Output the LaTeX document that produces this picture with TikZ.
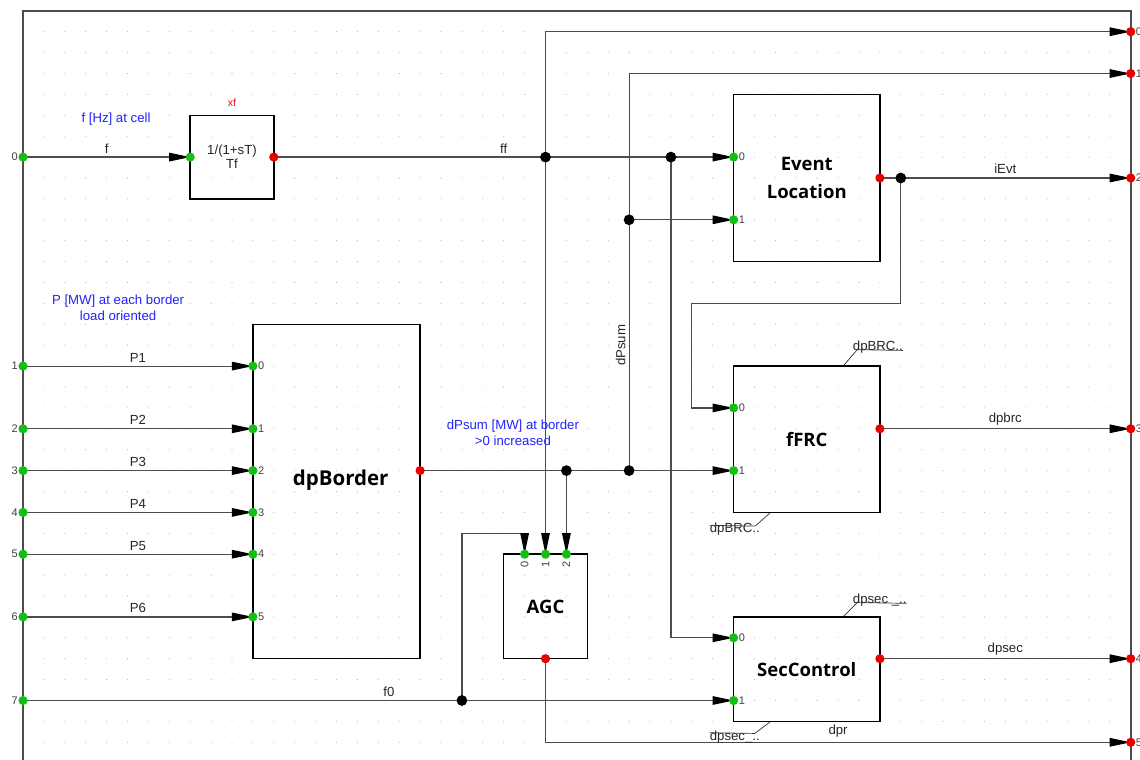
\documentclass[tikz,border=0pt]{standalone}
\usepackage{fontspec}
\setmainfont{Liberation Sans}
\newfontfamily\blockfont{Open Sans}
\usetikzlibrary{arrows.meta,positioning,calc}

\definecolor{noteblue}{RGB}{35,35,250}
\definecolor{portgreen}{RGB}{20,190,20}
\definecolor{portred}{RGB}{235,0,0}

\begin{document}
\begin{tikzpicture}[
    x=20.9pt, y=-20.9pt,
    blockbox/.style={rectangle, draw=black, line width=1.5pt, inner sep=0pt},
    sig/.style={draw=black!70, line width=1.2pt, -{Triangle[length=21pt, width=8.5pt, color=black]}},
    lbl/.style={font=\fontsize{13.2}{14}\selectfont, text=black!85},
    note/.style={font=\fontsize{13.2}{16}\selectfont, text=noteblue, align=center},
    pnum/.style={font=\fontsize{11}{12}\selectfont, text=black!75, inner sep=1pt},
    bigtxt/.style={font=\blockfont\bfseries\fontsize{18.5}{28}\selectfont, align=center},
    lead/.style={draw=black!80, line width=0.7pt}
]
    \useasboundingbox (-1.1005,-0.5167) rectangle (53.445,35.847);
    \fill[white] (-1.1005,-0.5167) rectangle (53.445,35.847);

    % Grid
    \foreach \i in {1,...,52}
        \foreach \j in {1,...,35}
            \fill[black!30] (\i,\j) circle (0.55pt);

    % Frame
    \draw[draw=black!70, line width=1.6pt] (0,36.5) -- (0,0) -- (53,0) -- (53,36.5);

    % Frame ports
    \foreach \n/\y in {0/7,1/17,2/20,3/22,4/24,5/26,6/29,7/33}
        \coordinate (in\n) at (0,\y);
    \foreach \n/\y in {0/1,1/3,2/8,3/20,4/31,5/35}
        \coordinate (out\n) at (53,\y);

    % Filter
    \node[blockbox, minimum width=83.6pt, minimum height=83.6pt, lbl, align=center] (filt) at (10,7) {1/(1+sT)\\Tf};
    \node[lbl, text=red, font=\fontsize{10.5}{12}\selectfont, above=5pt of filt] (xf) {xf};
    \coordinate (filtin) at (8,7);
    \coordinate (filtout) at (12,7);

    % Event Location
    \node[blockbox, minimum width=146.3pt, minimum height=167.2pt, bigtxt] (evt) at (37.5,8) {Event\\Location};
    \coordinate (evt0) at (34,7);
    \coordinate (evt1) at (34,10);
    \coordinate (evtout) at (41,8);

    % dpBorder
    \node[blockbox, minimum width=167.2pt, minimum height=334.4pt] (dpb) at (15,23) {};
    \node[bigtxt, font=\blockfont\bfseries\fontsize{20.5}{24}\selectfont] (dpbtxt) at (15.2,22.45) {dpBorder};
    \foreach \n/\y in {0/17,1/20,2/22,3/24,4/26,5/29}
        \coordinate (dpb\n) at (11,\y);
    \coordinate (dpbout) at (19,22);

    % fFRC
    \node[blockbox, minimum width=146.3pt, minimum height=146.3pt, bigtxt] (frc) at (37.5,20.5) {fFRC};
    \coordinate (frc0) at (34,19);
    \coordinate (frc1) at (34,22);
    \coordinate (frcout) at (41,20);

    % SecControl
    \node[blockbox, minimum width=146.3pt, minimum height=104.5pt, bigtxt] (sec) at (37.5,31.5) {SecControl};
    \coordinate (sec0) at (34,30);
    \coordinate (sec1) at (34,33);
    \coordinate (secout) at (41,31);

    % AGC
    \node[blockbox, minimum width=83.6pt, minimum height=104.5pt, bigtxt] (agc) at (25,28.5) {AGC};
    \coordinate (agc0) at (24,26);
    \coordinate (agc1) at (25,26);
    \coordinate (agc2) at (26,26);
    \coordinate (agcout) at (25,31);

    % Junctions
    \coordinate (jff1) at (25,7);
    \coordinate (jff2) at (31,7);
    \coordinate (jevt) at (42,8);
    \coordinate (jdp1) at (26,22);
    \coordinate (jdp2) at (29,22);
    \coordinate (jdp3) at (29,10);
    \coordinate (jf0) at (21,33);

    % Notes
    \node[note] (fnote) at (4.45,5.2) {f [Hz] at cell};
    \node[note] (pnote) at (4.55,14.2) {P [MW] at each border\\load oriented};
    \node[note] (dpnote) at (23.44,20.2) {dPsum [MW] at border\\>0 increased};

    % Signals
    \draw[sig] (in0) -- node[lbl, above] {f} (filtin);
    \draw[sig] (filtout) -- node[lbl, above] {ff} (evt0);
    \draw[sig] (jff1) |- (out0);
    \draw[sig] (jff1) -- (agc1);
    \draw[sig] (jff2) |- (sec0);
    \draw[sig] (evtout) -- node[lbl, above] {iEvt} (out2);
    \draw[sig] (jevt) |- (32,14) |- (frc0);
    \foreach \n/\m in {1/0,2/1,3/2,4/3,5/4,6/5}
        \draw[sig] (in\n) -- node[lbl, above] {P\n} (dpb\m);
    \draw[sig] (dpbout) -- (frc1);
    \draw[sig] (jdp2) |- (out1);
    \draw[sig] (jdp3) -- (evt1);
    \draw[sig] (jdp1) -- (agc2);
    \node[lbl, rotate=90, anchor=south] (dpsumlbl) at (29,16) {dPsum};
    \draw[sig] (in7) -- node[lbl, above, pos=0.515] {f0} (sec1);
    \draw[sig] (jf0) -- (21,25) -| (agc0);
    \draw[sig] (agcout) |- (out5);
    \draw[sig] (frcout) -- node[lbl, above] {dpbrc} (out3);
    \draw[sig] (secout) -- node[lbl, above] {dpsec} (out4);

    % Leaders
    \node[lbl, anchor=base west, inner sep=0pt] (frctop) at (39.7,16.25) {dpBRC..};
    \draw[lead] ($(frc.north west)!0.75!(frc.north east)$) -- ++(0.65,-0.75) -- (frctop.base east);
    \node[lbl, anchor=base east, inner sep=0pt] (frcbot) at (35.26,24.97) {dpBRC..};
    \draw[lead] ($(frc.south west)!0.25!(frc.south east)$) -- ++(-0.7,0.62) -- ($(frcbot.base west)+(0,-0.35)$);
    \node[lbl, anchor=base west, inner sep=0pt] (sectop) at (39.7,28.35) {dpsec \_..};
    \draw[lead] ($(sec.north west)!0.75!(sec.north east)$) -- ++(0.65,-0.65) -- (sectop.base east);
    \node[lbl, anchor=base east, inner sep=0pt] (secbot) at (35.26,34.89) {dpsec\_..};
    \draw[lead] ($(sec.south west)!0.25!(sec.south east)$) -- ++(-0.72,0.54) -- ($(secbot.base west)+(0,-0.35)$);
    \node[lbl] (dpr) at (39,34.45) {dpr};

    % Port numbers
    \foreach \n in {0,...,7}
        \node[pnum, left=4pt of in\n] (lin\n) {\n};
    \foreach \n in {0,...,5}
        \node[pnum, right=4pt of out\n] (lout\n) {\n};
    \foreach \p/\t in {evt0/0,evt1/1,frc0/0,frc1/1,sec0/0,sec1/1,dpb0/0,dpb1/1,dpb2/2,dpb3/3,dpb4/4,dpb5/5}
        \node[pnum, right=4pt of \p] (l\p) {\t};
    \foreach \p/\t in {agc0/0,agc1/1,agc2/2}
        \node[pnum, rotate=90] (l\p) at ($(\p)+(0,0.5)$) {\t};

    % Port dots
    \foreach \p in {in0,in1,in2,in3,in4,in5,in6,in7,filtin,evt0,evt1,frc0,frc1,sec0,sec1,agc0,agc1,agc2,dpb0,dpb1,dpb2,dpb3,dpb4,dpb5}
        \fill[portgreen] (\p) circle (4.6pt);
    \foreach \p in {out0,out1,out2,out3,out4,out5,filtout,evtout,frcout,secout,agcout,dpbout}
        \fill[portred] (\p) circle (4.6pt);
    \foreach \p in {jff1,jff2,jevt,jdp1,jdp2,jdp3,jf0}
        \fill[black] (\p) circle (5.4pt);
\end{tikzpicture}
\end{document}
